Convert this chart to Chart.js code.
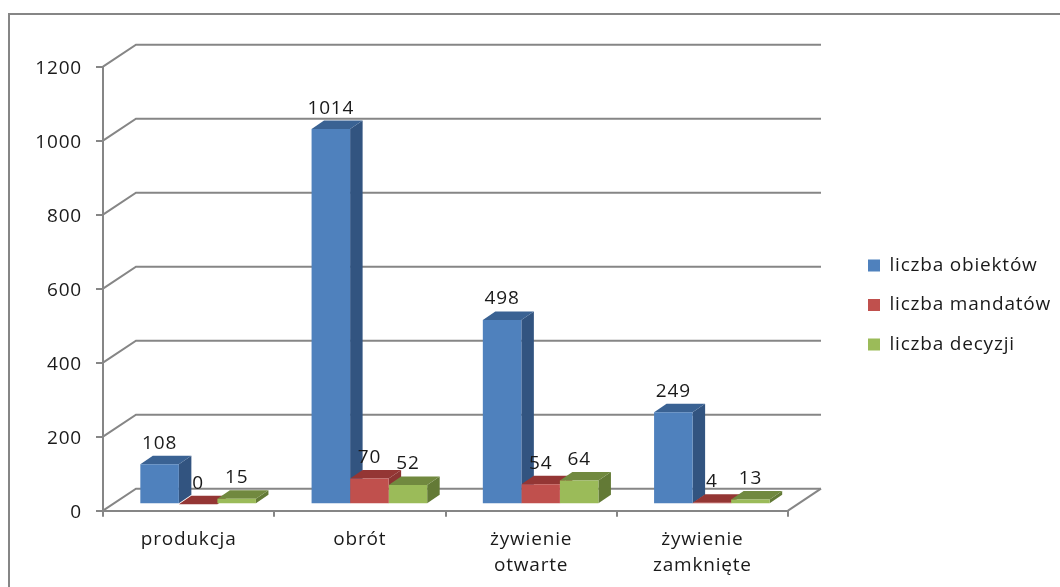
<!DOCTYPE html>
<html lang="pl">
<head>
<meta charset="utf-8">
<title>Kontrole</title>
<script src="https://cdn.jsdelivr.net/npm/chart.js@4"></script>
<style>
  html, body { margin: 0; padding: 0; background: #fff; }
  #wrap { width: 1060px; height: 587px; }
</style>
</head>
<body>
<div id="wrap"><canvas id="myChart" width="1060" height="587"></canvas></div>
<script>
const categories = ["produkcja", "obrót", ["żywienie", "otwarte"], ["żywienie", "zamknięte"]];
const obiekty = [108, 1014, 498, 249];
const mandaty = [0, 70, 54, 4];
const decyzje = [15, 52, 64, 13];
const yTicks = [0, 200, 400, 600, 800, 1000, 1200];

const axisGray = "#868686";
const textColor = "#1a1a1a";
const fontFamily = "'Open Sans', sans-serif";
const fontSize = 19;
const spacing = "0.8px";

// depth of the floor/walls, and of the bars standing on it
const wall = { dx: 33, dy: -22 };
const barShift = { dx: 9.5, dy: -6.4 };
const barDepth = { dx: 12.5, dy: -8.5 };

const faces = [
  { top: "#3a6293", side: "#325480" },
  { top: "#943634", side: "#8c3533" },
  { top: "#71893f", side: "#637a36" }
];

function poly(ctx, pts, color) {
  ctx.fillStyle = color;
  ctx.beginPath();
  pts.forEach((p, i) => i ? ctx.lineTo(p[0], p[1]) : ctx.moveTo(p[0], p[1]));
  ctx.closePath();
  ctx.fill();
}

// outer frame, only top and left edges are inside the canvas
const frame = {
  id: "frame",
  beforeDraw(chart) {
    const ctx = chart.ctx;
    ctx.letterSpacing = spacing;
    ctx.save();
    ctx.strokeStyle = axisGray;
    ctx.lineWidth = 2;
    ctx.beginPath();
    ctx.moveTo(9, 587);
    ctx.lineTo(9, 14);
    ctx.lineTo(1060, 14);
    ctx.stroke();
    ctx.restore();
  }
};

// back wall lines, floor edge and the side/top faces of the bars
const depth3d = {
  id: "depth3d",
  afterLayout(chart) {
    const lg = chart.legend;
    lg.left = 847.5; lg.right = 1060; lg.top = 235.5; lg.bottom = 587;
  },
  beforeDatasetsDraw(chart) {
    const ctx = chart.ctx;
    const y = chart.scales.y;
    const a = chart.chartArea;
    ctx.save();
    ctx.strokeStyle = axisGray;
    ctx.lineWidth = 2;
    yTicks.forEach(v => {
      const py = y.getPixelForValue(v);
      ctx.beginPath();
      ctx.moveTo(a.left, py);
      ctx.lineTo(a.left + wall.dx, py + wall.dy);
      ctx.lineTo(a.right + wall.dx, py + wall.dy);
      ctx.stroke();
    });
    const py0 = y.getPixelForValue(0);
    ctx.beginPath();
    ctx.moveTo(a.right, py0);
    ctx.lineTo(a.right + wall.dx, py0 + wall.dy);
    ctx.stroke();

    ctx.translate(barShift.dx, barShift.dy);
    chart.data.datasets.forEach((ds, d) => {
      chart.getDatasetMeta(d).data.forEach(bar => {
        const l = bar.x - bar.width / 2, r = bar.x + bar.width / 2;
        const t = bar.y, b = bar.base;
        const dx = barDepth.dx, dy = barDepth.dy;
        poly(ctx, [[r, t], [r + dx, t + dy], [r + dx, b + dy], [r, b]], faces[d].side);
        poly(ctx, [[l, t], [l + dx, t + dy], [r + dx, t + dy], [r, t]], faces[d].top);
      });
    });
    ctx.restore();
    // front faces are drawn by the library inside this shift
    ctx.save();
    ctx.translate(barShift.dx, barShift.dy);
  },
  afterDatasetsDraw(chart) {
    const ctx = chart.ctx;
    ctx.restore();
    ctx.save();
    ctx.font = fontSize + "px " + fontFamily;
    ctx.fillStyle = textColor;
    ctx.textAlign = "center";
    ctx.textBaseline = "middle";
    chart.data.datasets.forEach((ds, d) => {
      chart.getDatasetMeta(d).data.forEach((bar, i) => {
        ctx.fillText(String(ds.data[i]), bar.x + barShift.dx, bar.y + barShift.dy - 21);
      });
    });
    ctx.restore();
  }
};

const mkDataset = (label, data, color) => ({
  label: label,
  data: data,
  backgroundColor: color,
  borderWidth: 0,
  categoryPercentage: 0.675,
  barPercentage: 1
});

new Chart(document.getElementById("myChart").getContext("2d"), {
  type: "bar",
  data: {
    labels: categories,
    datasets: [
      mkDataset("liczba obiektów", obiekty, "#4f81bd"),
      mkDataset("liczba mandatów", mandaty, "#c0504d"),
      mkDataset("liczba decyzji", decyzje, "#9bbb59")
    ]
  },
  options: {
    responsive: false,
    animation: false,
    layout: { padding: { left: 0, top: 66.7, right: 272, bottom: 0 } },
    scales: {
      x: {
        afterFit: s => { s.height = 76.3; },
        grid: { drawOnChartArea: false, color: axisGray, lineWidth: 2, tickLength: 6 },
        border: { color: axisGray, width: 2 },
        ticks: {
          color: textColor,
          padding: 10,
          maxRotation: 0,
          autoSkip: false,
          font: { family: fontFamily, size: fontSize, lineHeight: 1.37 }
        }
      },
      y: {
        min: 0,
        max: 1200,
        afterFit: s => { s.width = 103; },
        grid: { drawOnChartArea: false, color: axisGray, lineWidth: 2, tickLength: 7 },
        border: { color: axisGray, width: 2 },
        ticks: {
          stepSize: 200,
          color: textColor,
          padding: 14,
          labelOffset: 2,
          font: { family: fontFamily, size: fontSize },
          callback: v => String(v)
        }
      }
    },
    plugins: {
      tooltip: { enabled: false },
      title: { display: false },
      legend: {
        position: "chartArea",
        align: "start",
        labels: {
          boxWidth: 12,
          boxHeight: 12,
          padding: 20.5,
          color: textColor,
          font: { family: fontFamily, size: fontSize }
        }
      }
    }
  },
  plugins: [frame, depth3d]
});
</script>
</body>
</html>
